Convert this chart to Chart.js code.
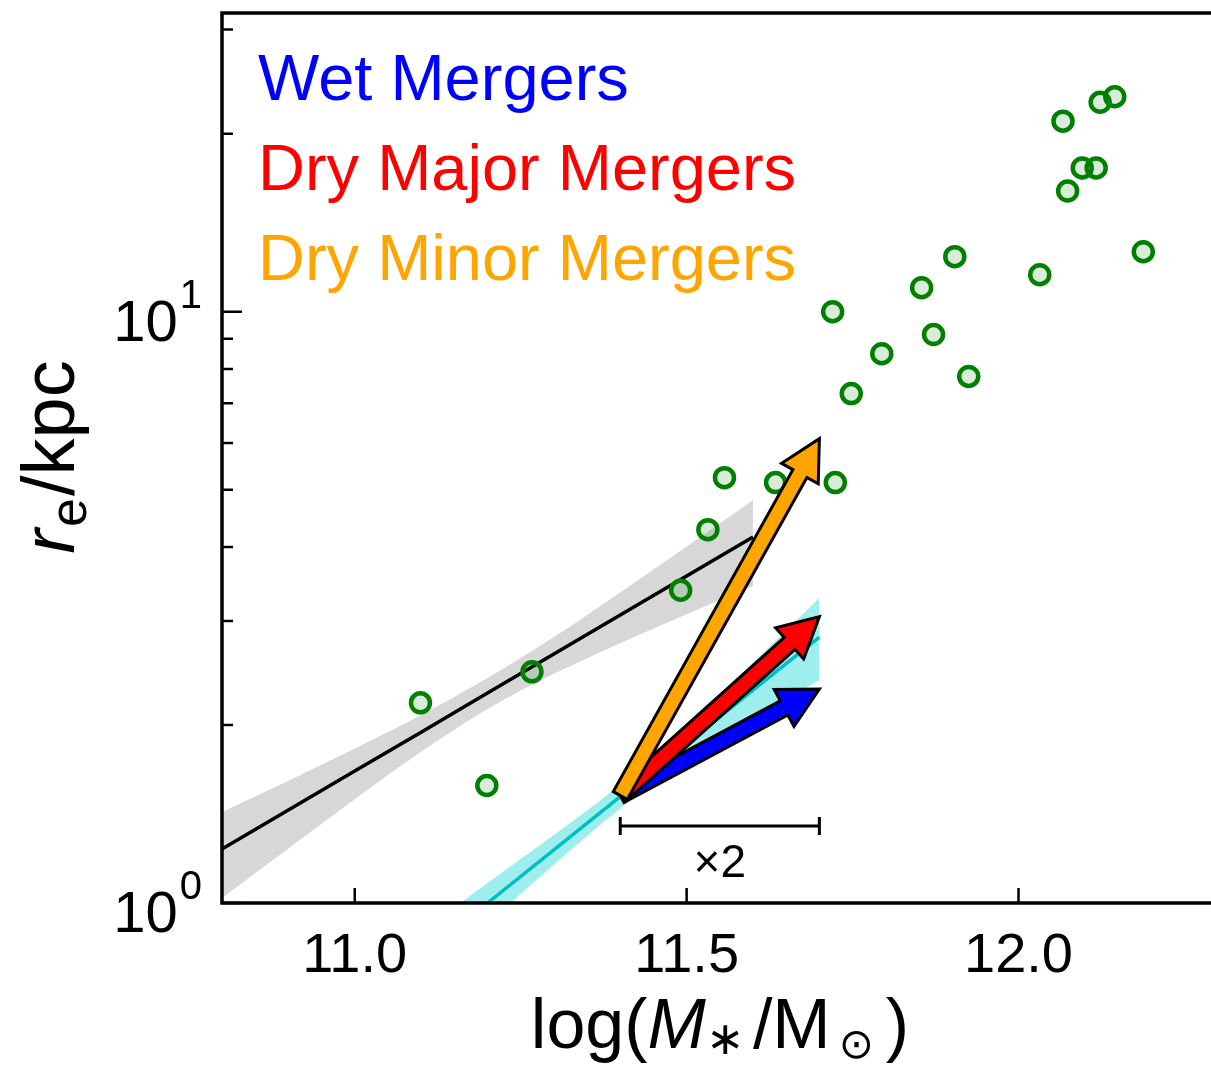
<!DOCTYPE html>
<html>
<head>
<meta charset="utf-8">
<title>Size–mass relation and merger vectors</title>
<script src="https://cdn.jsdelivr.net/npm/chart.js@4.4.1/dist/chart.umd.min.js"></script>
<style>
  html, body { margin: 0; padding: 0; background: #fff; overflow: hidden; }
  #wrap { width: 1211px; height: 1066px; position: relative; }
</style>
</head>
<body>
<div id="wrap"><canvas id="sizeMass"></canvas></div>
<script>
// ===== Size–mass plane with merger vectors =====

const FONT = '"Liberation Sans", Arial, Helvetica, sans-serif';

// galaxies: log stellar mass and effective radius (kpc)
const galaxyMass = [11.099, 11.199, 11.267, 11.491, 11.532, 11.557, 11.634, 11.724, 11.720,
  11.748, 11.794, 11.854, 11.872, 11.904, 11.925, 12.032, 12.067, 12.074, 12.096, 12.117,
  12.123, 12.145, 12.188];
const galaxyRe = [2.18, 1.58, 2.46, 3.38, 4.28, 5.24, 5.14, 5.14, 10.0,
  7.27, 8.49, 10.98, 9.15, 12.39, 7.77, 11.55, 21.0, 16.0, 17.5, 17.5,
  22.6, 23.1, 12.63];

// black relation and its grey band
const fitMass = [10.8, 10.9, 11.0, 11.1, 11.2, 11.3, 11.4, 11.5, 11.6];
const fitRe = [1.234, 1.436, 1.672, 1.945, 2.265, 2.636, 3.069, 3.572, 4.157];
const fitReHigh = [1.425, 1.610, 1.825, 2.080, 2.401, 2.818, 3.352, 4.007, 4.801];
const fitReLow = [1.020, 1.237, 1.498, 1.802, 2.129, 2.441, 2.751, 3.079, 3.436];

// cyan relation and its band
const hzMass = [11.15, 11.2, 11.3, 11.4, 11.5, 11.6, 11.7];
const hzRe = [0.902, 1.0, 1.230, 1.513, 1.860, 2.290, 2.815];
const hzReHigh = [0.982, 1.081, 1.303, 1.585, 1.979, 2.551, 3.28];
const hzReLow = [0.828, 0.925, 1.161, 1.445, 1.748, 2.055, 2.38];

// merger vectors: common start, all end after a mass doubling
const vectorStart = [11.4, 1.52];
const vectorEndMass = 11.7;
const vectorEndRe = [2.3, 3.05, 6.1];
const vectorNames = ['Wet Mergers', 'Dry Major Mergers', 'Dry Minor Mergers'];
const vectorColors = ['#0000ff', '#ff0000', '#ffa500'];

// "x2" mass bar
const doublingBar = [11.4, 11.7];
const doublingBarRe = 1.35;

// axis ticks
const xTickValues = [11.0, 11.5, 12.0];
const yMajorTicks = [1, 10];
const yMinorTicks = [2, 3, 4, 5, 6, 7, 8, 9, 20, 30];

const toXY = (xs, ys) => xs.map((x, i) => ({ x: x, y: ys[i] }));

// filled arrow with black outline, tip at (x1, y1)
function drawArrow(ctx, x0, y0, x1, y1, fill) {
  const dx = x1 - x0, dy = y1 - y0;
  const len = Math.hypot(dx, dy);
  const ux = dx / len, uy = dy / len;
  const nx = -uy, ny = ux;
  const w = 8, hw = 21, hl = 40;
  const bx = x1 - ux * hl, by = y1 - uy * hl;
  ctx.beginPath();
  ctx.moveTo(x0 + nx * w, y0 + ny * w);
  ctx.lineTo(bx + nx * w, by + ny * w);
  ctx.lineTo(bx + nx * hw, by + ny * hw);
  ctx.lineTo(x1, y1);
  ctx.lineTo(bx - nx * hw, by - ny * hw);
  ctx.lineTo(bx - nx * w, by - ny * w);
  ctx.lineTo(x0 - nx * w, y0 - ny * w);
  ctx.closePath();
  ctx.fillStyle = fill;
  ctx.fill();
  ctx.lineJoin = 'miter';
  ctx.lineWidth = 3;
  ctx.strokeStyle = '#000';
  ctx.stroke();
}

// draws pieces of text one after another, each with its own font and shift
function drawRich(ctx, parts, x, y) {
  let total = 0;
  parts.forEach(p => { ctx.font = p.font; p.w = ctx.measureText(p.text).width; total += p.w + (p.gap || 0); });
  let cx = x - total / 2;
  parts.forEach(p => {
    ctx.font = p.font;
    ctx.fillText(p.text, cx, y + (p.dy || 0));
    cx += p.w + (p.gap || 0);
  });
}

const decorations = {
  id: 'decorations',
  afterDatasetsDraw(chart) {
    const { ctx, scales: { x, y } } = chart;
    ctx.save();
    const x0 = x.getPixelForValue(vectorStart[0]);
    const y0 = y.getPixelForValue(vectorStart[1]);
    const xe = x.getPixelForValue(vectorEndMass);
    vectorEndRe.forEach((re, i) => drawArrow(ctx, x0, y0, xe, y.getPixelForValue(re), vectorColors[i]));

    // mass doubling bar
    const bx1 = x.getPixelForValue(doublingBar[0]);
    const bx2 = x.getPixelForValue(doublingBar[1]);
    const by = y.getPixelForValue(doublingBarRe);
    ctx.strokeStyle = '#000';
    ctx.lineWidth = 3;
    ctx.beginPath();
    ctx.moveTo(bx1, by); ctx.lineTo(bx2, by);
    ctx.moveTo(bx1, by - 9); ctx.lineTo(bx1, by + 9);
    ctx.moveTo(bx2, by - 9); ctx.lineTo(bx2, by + 9);
    ctx.stroke();
    ctx.fillStyle = '#000';
    ctx.font = '46px ' + FONT;
    ctx.textAlign = 'center';
    ctx.textBaseline = 'alphabetic';
    ctx.fillText('\u00d72', (bx1 + bx2) / 2, by + 51);
    ctx.restore();
  },
  afterDraw(chart) {
    const { ctx, chartArea: { left, top, right, bottom }, scales: { x, y } } = chart;
    ctx.save();
    ctx.strokeStyle = '#000';
    ctx.fillStyle = '#000';

    // frame (right side runs off the canvas)
    ctx.lineWidth = 3.5;
    ctx.beginPath();
    ctx.moveTo(right + 10, top);
    ctx.lineTo(left, top);
    ctx.lineTo(left, bottom);
    ctx.lineTo(right + 10, bottom);
    ctx.stroke();

    // inward tick marks
    ctx.lineWidth = 2.5;
    ctx.beginPath();
    xTickValues.forEach(v => {
      const px = x.getPixelForValue(v);
      ctx.moveTo(px, bottom); ctx.lineTo(px, bottom - 15);
    });
    yMajorTicks.forEach(v => {
      const py = y.getPixelForValue(v);
      ctx.moveTo(left, py); ctx.lineTo(left + 20, py);
    });
    yMinorTicks.forEach(v => {
      const py = y.getPixelForValue(v);
      ctx.moveTo(left, py); ctx.lineTo(left + 11, py);
    });
    ctx.stroke();

    // x tick labels
    ctx.textBaseline = 'alphabetic';
    ctx.textAlign = 'center';
    ctx.font = '56px ' + FONT;
    xTickValues.forEach(v => {
      ctx.fillText(v.toFixed(1), x.getPixelForValue(v), bottom + 69);
    });

    // y tick labels as powers of ten
    ctx.textAlign = 'right';
    yMajorTicks.forEach(v => {
      const py = y.getPixelForValue(v);
      const exp = String(Math.round(Math.log10(v)));
      ctx.font = '40px ' + FONT;
      const ew = ctx.measureText(exp).width;
      ctx.fillText(exp, left - 20, py - 4);
      ctx.font = '58px ' + FONT;
      ctx.fillText('10', left - 22 - ew, py + 29);
    });

    // axis titles
    ctx.textAlign = 'left';
    drawRich(ctx, [
      { text: 'log(', font: '70px ' + FONT },
      { text: 'M', font: 'italic 70px ' + FONT },
      { text: '\u2217', font: '46px ' + FONT, dy: 6, gap: 8 },
      { text: '/M', font: '70px ' + FONT, gap: 8 },
      { text: '\u2299', font: '42px "DejaVu Sans", ' + FONT, dy: 10, gap: 12 },
      { text: ')', font: '70px ' + FONT }
    ], 720, 1048);

    ctx.save();
    ctx.translate(74, 457);
    ctx.rotate(-Math.PI / 2);
    drawRich(ctx, [
      { text: 'r', font: 'italic 74px ' + FONT, gap: 2 },
      { text: 'e', font: '52px ' + FONT, dy: 12, gap: 2 },
      { text: '/kpc', font: '74px ' + FONT }
    ], 0, 0);
    ctx.restore();

    // merger labels
    ctx.font = '65px ' + FONT;
    vectorNames.forEach((name, i) => {
      ctx.fillStyle = vectorColors[i];
      ctx.fillText(name, left + 36, top + 87 + i * 90);
    });
    ctx.restore();
  }
};

const ctx = document.getElementById('sizeMass').getContext('2d');

new Chart(ctx, {
  type: 'scatter',
  data: {
    datasets: [
      {
        label: 'galaxies',
        data: toXY(galaxyMass, galaxyRe),
        showLine: false,
        pointRadius: 9.5,
        pointBorderWidth: 4.5,
        borderColor: '#008000',
        backgroundColor: 'rgba(0, 128, 0, 0.15)',
        order: 0
      },
      {
        label: 'cyan relation',
        data: toXY(hzMass, hzRe),
        showLine: true,
        borderColor: '#00bfc4',
        borderWidth: 3.5,
        pointRadius: 0,
        order: 1
      },
      {
        label: 'cyan band high',
        data: toXY(hzMass, hzReHigh),
        showLine: true,
        cubicInterpolationMode: 'monotone',
        borderColor: 'rgba(0,0,0,0)',
        borderWidth: 0,
        pointRadius: 0,
        fill: '+1',
        backgroundColor: 'rgba(0, 210, 210, 0.38)',
        order: 2
      },
      {
        label: 'cyan band low',
        data: toXY(hzMass, hzReLow),
        showLine: true,
        cubicInterpolationMode: 'monotone',
        borderColor: 'rgba(0,0,0,0)',
        borderWidth: 0,
        pointRadius: 0,
        fill: false,
        order: 2
      },
      {
        label: 'relation',
        data: toXY(fitMass, fitRe),
        showLine: true,
        borderColor: '#000',
        borderWidth: 3.5,
        pointRadius: 0,
        order: 3
      },
      {
        label: 'band high',
        data: toXY(fitMass, fitReHigh),
        showLine: true,
        cubicInterpolationMode: 'monotone',
        borderColor: 'rgba(0,0,0,0)',
        borderWidth: 0,
        pointRadius: 0,
        fill: '+1',
        backgroundColor: 'rgba(160, 160, 160, 0.42)',
        order: 4
      },
      {
        label: 'band low',
        data: toXY(fitMass, fitReLow),
        showLine: true,
        cubicInterpolationMode: 'monotone',
        borderColor: 'rgba(0,0,0,0)',
        borderWidth: 0,
        pointRadius: 0,
        fill: false,
        order: 4
      }
    ]
  },
  options: {
    responsive: true,
    maintainAspectRatio: false,
    animation: false,
    layout: { autoPadding: false, padding: { left: 0, top: 13, right: 0, bottom: 0 } },
    plugins: {
      legend: { display: false },
      tooltip: { enabled: false }
    },
    scales: {
      x: {
        type: 'linear',
        min: 10.8,
        max: 12.29,
        grid: { display: false, drawTicks: false },
        border: { display: false },
        ticks: { display: false },
        afterBuildTicks: (scale) => {
          scale.ticks = xTickValues.map(v => ({ value: v }));
        },
        afterFit: (scale) => { scale.height = 163; }
      },
      y: {
        type: 'logarithmic',
        min: 1,
        max: 32,
        grid: { display: false, drawTicks: false },
        border: { display: false },
        ticks: { display: false },
        afterFit: (scale) => { scale.width = 222; }
      }
    }
  },
  plugins: [decorations]
});
</script>
</body>
</html>
